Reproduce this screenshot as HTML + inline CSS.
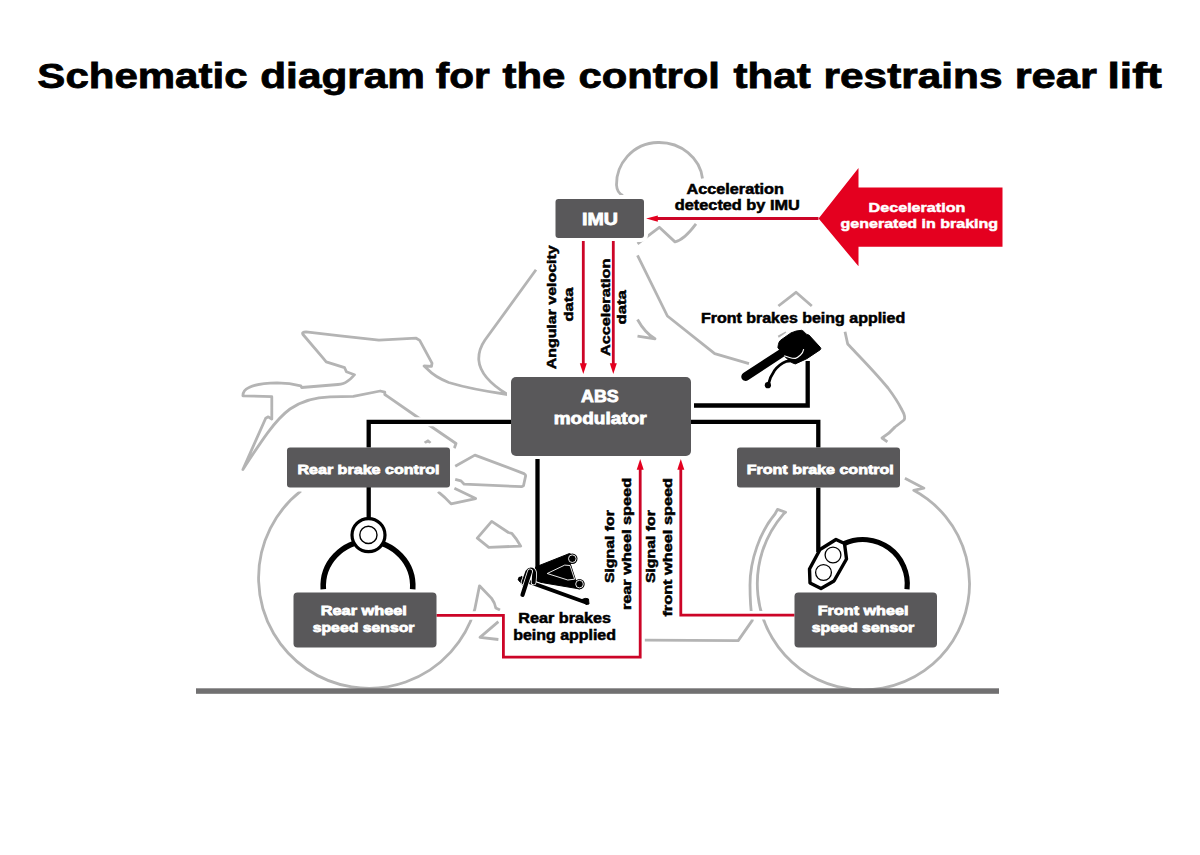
<!DOCTYPE html>
<html><head><meta charset="utf-8">
<style>
html,body{margin:0;padding:0;background:#fff;}
body{width:1200px;height:855px;overflow:hidden;}
svg{display:block;}
text{font-family:"Liberation Sans",sans-serif;font-weight:bold;}
</style></head>
<body>
<svg width="1200" height="855" viewBox="0 0 1200 855">
<g fill="#000" stroke="#000" stroke-width="0.8" font-size="35.2"><text x="37.38" y="87.5" textLength="210.12" lengthAdjust="spacingAndGlyphs">Schematic</text><text x="260.25" y="87.5" textLength="164.72" lengthAdjust="spacingAndGlyphs">diagram</text><text x="435.66" y="87.5" textLength="54.12" lengthAdjust="spacingAndGlyphs">for</text><text x="502.49" y="87.5" textLength="62.89" lengthAdjust="spacingAndGlyphs">the</text><text x="578.43" y="87.5" textLength="141.55" lengthAdjust="spacingAndGlyphs">control</text><text x="733.5" y="87.5" textLength="77.25" lengthAdjust="spacingAndGlyphs">that</text><text x="823.59" y="87.5" textLength="178.9" lengthAdjust="spacingAndGlyphs">restrains</text><text x="1014.69" y="87.5" textLength="82.1" lengthAdjust="spacingAndGlyphs">rear</text><text x="1107.54" y="87.5" textLength="54.27" lengthAdjust="spacingAndGlyphs">lift</text></g>
<g fill="none" stroke="#b4b4b4" stroke-width="2.8" stroke-linejoin="round"><path d="M536,269.8 L485,340 C479.5,348 478.5,354 478.8,360 C479.5,370 487,382 507.5,394.5 C490,392 470,389 448.7,382.5 C440,379 432,374 427.6,369.3 L424.1,366 L431.5,366.3 L432,363.2 L419.7,340.4 L416.2,338.2 L378.9,340.2 L340.3,335.8 L306,331.9 Q301.5,332 303,334.5 L322.7,357.7 L326.2,361.8 L344.6,367.7 L346.4,371.8 L354.5,374.7 Q350,380 347,381.5 Q344,384 338,384.5 L301.7,387.5 L300.8,385.8 Q290,383 277.1,382.8 Q258,383 249,387.5 Q243,390 242.9,395.8 L271.8,396.7 L271.8,419.1 L268.3,416.8 L265.7,418.2 L242.9,469.5 C262,440 275,420 290,409 C303,400 318,397 330,396.8 L353.3,396.3 L380.2,391 L384.8,392.2 L384.8,394.5 L388.3,396.8 L418,417.5 L456,443.5 L454.3,448.2"/>
<path d="M623,195.5 Q617,193 616.5,185 C616,165 632,143 658,142.5 C681,142 700,158 702.5,178.5"/>
<path d="M637.5,243.8 L659.3,227.3 L675,241.9 Q684,240 696,223.9"/>
<path d="M637.5,255.4 L667.4,316 L714.7,353.7 L749,363.7"/>
<path d="M637.5,319.5 Q645,333 655,338.8 L637.5,336.1"/>
<path d="M778.4,306 L796,292.3 L811.8,306"/>
<path d="M845,331.8 L847.7,344 C860,357 875,372 888,388 Q897,400 902,410 Q906,417 904,420 Q899,424 895,427 Q890,433 882,438 L887.4,441.8"/>
<path d="M778.4,337 L786.3,332.6"/>
<path d="M904.9,478.3 L923.9,488.2 L913.7,490.3 A106.1,106.1 0 1 1 783.2,514.3 L785.6,512.2 L777.5,509.4 L775,514 C760,532 750,560 750,585 C750,600 751,612 752.3,620.4 L738.2,640.6 L644.7,640.2"/>
<path d="M301,490.9 A110.4,110.4 0 1 0 474.7,609.7 L479.5,585.8 L491.6,598.4 Q495,603 495.8,607.9 L500,610"/>
<path d="M438,491.7 A110.4,110.4 0 0 1 451.1,503.9 L475.7,498.6 L454.4,488.3"/>
<path d="M455.2,466.2 L474.9,455.1 L524,473.6 Q526,475 525.6,476 L523.5,485.8 L521.5,486.7 L464.2,484.2 L461,480.9 L455.2,479.3"/>
<path d="M477.3,538.2 L491.7,521.4 L508.4,532.5 L511.7,533.3 Q516,538 520.7,546.1 L488.8,547.3 Z"/>
<path d="M498.4,621.6 L480,637.4 L498.4,639.5"/>
<path d="M424.7,443 L427.9,440.8 L430.5,443"/></g>
<g><rect x="555.5" y="199" width="88.5" height="39" rx="3" fill="#fff" stroke="#fff" stroke-width="8"/><rect x="511" y="377" width="180" height="79" rx="5" fill="#fff" stroke="#fff" stroke-width="8"/><rect x="287" y="447.5" width="163" height="40" rx="3" fill="#fff" stroke="#fff" stroke-width="8"/><rect x="737" y="447.5" width="163" height="40" rx="3" fill="#fff" stroke="#fff" stroke-width="8"/><rect x="293.5" y="592.5" width="143" height="55" rx="4" fill="#fff" stroke="#fff" stroke-width="8"/><rect x="794.5" y="592.5" width="142.5" height="55" rx="4" fill="#fff" stroke="#fff" stroke-width="8"/><path d="M511 421.8 H368.7 V447.5" fill="none" stroke="#fff" stroke-width="9"/><path d="M368.7 487 V520" fill="none" stroke="#fff" stroke-width="9"/><path d="M691 421.8 H818.3 V447.5" fill="none" stroke="#fff" stroke-width="9"/><path d="M818.3 487.5 V552" fill="none" stroke="#fff" stroke-width="9"/><path d="M694 405.5 H807.7 V361" fill="none" stroke="#fff" stroke-width="9"/><path d="M537.5 459 V570" fill="none" stroke="#fff" stroke-width="9"/><path d="M436.5 615.4 H503.4 V657.2 H640.2 V468" fill="none" stroke="#fff" stroke-width="8.5"/><path d="M794.5 615.2 H680.8 V468" fill="none" stroke="#fff" stroke-width="8.5"/><path d="M583.3 241 V364" fill="none" stroke="#fff" stroke-width="8.5"/><path d="M613.3 241 V364" fill="none" stroke="#fff" stroke-width="8.5"/><path d="M818.5 218.5 H656" fill="none" stroke="#fff" stroke-width="8.5"/><path d="M583.3 374 L579.8 363.2 L586.8 363.2 Z" fill="#fff" stroke="#fff" stroke-width="6"/><path d="M613.3 374 L609.8 363.2 L616.8 363.2 Z" fill="#fff" stroke="#fff" stroke-width="6"/><path d="M640.2 459 L636.7 469.8 L643.7 469.8 Z" fill="#fff" stroke="#fff" stroke-width="6"/><path d="M680.8 459 L677.3 469.8 L684.3 469.8 Z" fill="#fff" stroke="#fff" stroke-width="6"/><path d="M646.1 218.6 L657.8 215.4 L657.8 221.8 Z" fill="#fff" stroke="#fff" stroke-width="6"/><path d="M818.6 218.4 L858.5 168.1 L858.5 187.6 L1002.5 187.6 L1002.5 246.8 L858.5 246.8 L858.5 266.3 Z" fill="#fff" stroke="#fff" stroke-width="6"/><text x="686.4" y="193.5" font-size="13.75" textLength="97.6" lengthAdjust="spacingAndGlyphs" fill="#fff" stroke="#fff" stroke-width="6" stroke-linejoin="round">Acceleration</text><text x="674.8" y="209.8" font-size="13.75" textLength="125" lengthAdjust="spacingAndGlyphs" fill="#fff" stroke="#fff" stroke-width="6" stroke-linejoin="round">detected by IMU</text><text x="701.0" y="322.9" font-size="13.75" textLength="204.2" lengthAdjust="spacingAndGlyphs" fill="#fff" stroke="#fff" stroke-width="6" stroke-linejoin="round">Front brakes being applied</text><text x="518.3" y="622.9" font-size="13.75" textLength="92.8" lengthAdjust="spacingAndGlyphs" fill="#fff" stroke="#fff" stroke-width="6" stroke-linejoin="round">Rear brakes</text><text x="513.2" y="639.5" font-size="13.75" textLength="102.8" lengthAdjust="spacingAndGlyphs" fill="#fff" stroke="#fff" stroke-width="6" stroke-linejoin="round">being applied</text><text transform="translate(555.7,369.2) rotate(-90)" font-size="13.2" textLength="123.8" lengthAdjust="spacingAndGlyphs" fill="#fff" stroke="#fff" stroke-width="6" stroke-linejoin="round">Angular velocity</text><text transform="translate(572.7,321.6) rotate(-90)" font-size="13.2" textLength="34" lengthAdjust="spacingAndGlyphs" fill="#fff" stroke="#fff" stroke-width="6" stroke-linejoin="round">data</text><text transform="translate(609.9,356.0) rotate(-90)" font-size="13.2" textLength="97.4" lengthAdjust="spacingAndGlyphs" fill="#fff" stroke="#fff" stroke-width="6" stroke-linejoin="round">Acceleration</text><text transform="translate(626.2,324.5) rotate(-90)" font-size="13.2" textLength="34.4" lengthAdjust="spacingAndGlyphs" fill="#fff" stroke="#fff" stroke-width="6" stroke-linejoin="round">data</text><text transform="translate(614.3,583.1) rotate(-90)" font-size="13.2" textLength="73" lengthAdjust="spacingAndGlyphs" fill="#fff" stroke="#fff" stroke-width="6" stroke-linejoin="round">Signal for</text><text transform="translate(631.3,610.1) rotate(-90)" font-size="13.2" textLength="132.2" lengthAdjust="spacingAndGlyphs" fill="#fff" stroke="#fff" stroke-width="6" stroke-linejoin="round">rear wheel speed</text><text transform="translate(655.3,583.1) rotate(-90)" font-size="13.2" textLength="73" lengthAdjust="spacingAndGlyphs" fill="#fff" stroke="#fff" stroke-width="6" stroke-linejoin="round">Signal for</text><text transform="translate(672.3,616.6) rotate(-90)" font-size="13.2" textLength="138.7" lengthAdjust="spacingAndGlyphs" fill="#fff" stroke="#fff" stroke-width="6" stroke-linejoin="round">front wheel speed</text><line x1="745.6" y1="376.6" x2="781" y2="353.5" stroke="#fff" stroke-width="14" stroke-linecap="round"/><path d="M777.9,347.6 L778.4,344.5 Q779,341.5 780.5,340.3 L791,332.9 Q796,330.5 801.6,330.3 Q803.5,331 804.7,332.4 L806.8,334.5 L808.9,335 L820,347.1 Q821.5,348.5 820.3,349.7 L806.8,358.7 L795.3,363.9 Q792,363 790,361.3 L784.5,356.3 Z" fill="#fff" stroke="#fff" stroke-width="6" stroke-linejoin="round"/><path d="M798,361.5 Q791,360 786,361.5 Q779,364.5 774.5,370.5 Q770,377 768.5,384" fill="none" stroke="#fff" stroke-width="7"/><circle cx="767.9" cy="385.2" r="6" fill="#fff"/><g><path d="M323.3,589.3 A44.8,44.8 0 1 1 412.7,589.3" fill="none" stroke="#fff" stroke-width="10"/>
<circle cx="368.5" cy="535.1" r="16.5" fill="#fff" stroke="#fff" stroke-width="8"/>
<circle cx="368.4" cy="534.9" r="8.6" fill="none" stroke="#fff" stroke-width="1.4"/></g><g><path d="M844,543.7 A44.5,44.5 0 0 1 907,589.3" fill="none" stroke="#fff" stroke-width="9"/>
<path d="M836,539.5 L844.5,543.5 L846.5,559 L834,581 L821,588.5 L810,583 L809.5,569 L820,549.5 Z" fill="#fff" stroke="#fff" stroke-width="8" stroke-linejoin="round"/>
<circle cx="833" cy="555" r="7.9" fill="none" stroke="#fff" stroke-width="1.3"/>
<circle cx="823.5" cy="572.5" r="7.9" fill="none" stroke="#fff" stroke-width="1.3"/></g><rect x="514" y="550" width="80" height="58" fill="#fff" opacity="0"/></g>
<rect x="196" y="688.3" width="803" height="5.5" fill="#717071"/>
<g fill="none" stroke="#000" stroke-width="4.3"><path d="M511 421.8 H368.7 V447.5"/><path d="M368.7 487 V520"/><path d="M691 421.8 H818.3 V447.5"/><path d="M818.3 487.5 V552"/><path d="M694 405.5 H807.7 V361"/><path d="M537.5 459 V570"/></g>
<g fill="none" stroke="#cc0527" stroke-width="2.8"><path d="M436.5 615.4 H503.4 V657.2 H640.2 V468"/><path d="M794.5 615.2 H680.8 V468"/><path d="M583.3 241 V364"/><path d="M613.3 241 V364"/><path d="M818.5 218.5 H656"/></g>
<g fill="#e4001f"><path d="M583.3 374 L579.8 363.2 L586.8 363.2 Z"/><path d="M613.3 374 L609.8 363.2 L616.8 363.2 Z"/><path d="M640.2 459 L636.7 469.8 L643.7 469.8 Z"/><path d="M680.8 459 L677.3 469.8 L684.3 469.8 Z"/><path d="M646.1 218.6 L657.8 215.4 L657.8 221.8 Z"/><path d="M818.6 218.4 L858.5 168.1 L858.5 187.6 L1002.5 187.6 L1002.5 246.8 L858.5 246.8 L858.5 266.3 Z"/></g>
<g fill="#59585a"><rect x="555.5" y="199" width="88.5" height="39" rx="3"/><rect x="511" y="377" width="180" height="79" rx="5"/><rect x="287" y="447.5" width="163" height="40" rx="3"/><rect x="737" y="447.5" width="163" height="40" rx="3"/><rect x="293.5" y="592.5" width="143" height="55" rx="4"/><rect x="794.5" y="592.5" width="142.5" height="55" rx="4"/></g>
<line x1="745.6" y1="376.6" x2="781" y2="353.5" stroke="#000" stroke-width="8.6" stroke-linecap="round"/>
<path d="M798,361.5 Q791,360 786,361.5 Q779,364.5 774.5,370.5 Q770,377 768.5,384" fill="none" stroke="#fff" stroke-width="4.4"/>
<path d="M798,361.5 Q791,360 786,361.5 Q779,364.5 774.5,370.5 Q770,377 768.5,384" fill="none" stroke="#000" stroke-width="2.8" stroke-linecap="round"/>
<path d="M777.9,347.6 L778.4,344.5 Q779,341.5 780.5,340.3 L791,332.9 Q796,330.5 801.6,330.3 Q803.5,331 804.7,332.4 L806.8,334.5 L808.9,335 L820,347.1 Q821.5,348.5 820.3,349.7 L806.8,358.7 L795.3,363.9 Q792,363 790,361.3 L784.5,356.3 Z" fill="#000" stroke="#000" stroke-width="1" stroke-linejoin="round"/>
<path d="M803.7,349.2 Q803,353 800.5,355 Q797.5,357.8 795.3,358.4 Q792,358.3 789.5,357.4 L784.2,355.8" fill="none" stroke="#fff" stroke-width="1.1"/>
<circle cx="767.9" cy="385.2" r="3.1" fill="#000"/>
<path d="M323.3,589.3 A44.8,44.8 0 1 1 412.7,589.3" fill="none" stroke="#000" stroke-width="5.6"/>
<circle cx="368.5" cy="535.1" r="16.5" fill="#fff" stroke="#000" stroke-width="3.2"/>
<circle cx="368.4" cy="534.9" r="8.6" fill="none" stroke="#000" stroke-width="1.4"/>
<path d="M844,543.7 A44.5,44.5 0 0 1 907,589.3" fill="none" stroke="#000" stroke-width="5.2"/>
<path d="M836,539.5 L844.5,543.5 L846.5,559 L834,581 L821,588.5 L810,583 L809.5,569 L820,549.5 Z" fill="#fff" stroke="#000" stroke-width="3.4" stroke-linejoin="round"/>
<circle cx="833" cy="555" r="7.9" fill="none" stroke="#000" stroke-width="1.3"/>
<circle cx="823.5" cy="572.5" r="7.9" fill="none" stroke="#000" stroke-width="1.3"/>
<path d="M535.5,567 L569.5,553.5 L574,556 L570.5,564.5 L575.5,580 L580,589 L535.5,581.5 Z" fill="#000" stroke="#000" stroke-width="1" stroke-linejoin="round"/>
<path d="M547.2,573.5 L564.7,565.1 L570,565.5 L574.6,579.2 L567.8,580 Z" fill="none" stroke="#fff" stroke-width="0.9" stroke-linejoin="round"/>
<circle cx="572.3" cy="558.7" r="5.2" fill="#000"/>
<circle cx="572.3" cy="558.7" r="3.8" fill="#000" stroke="#fff" stroke-width="0.9"/>
<circle cx="579.5" cy="584.1" r="5.2" fill="#000"/>
<circle cx="579.5" cy="584.1" r="3.8" fill="#000" stroke="#fff" stroke-width="0.9"/>
<path d="M520,578.6 L586,602.5" stroke="#fff" stroke-width="5.8"/>
<path d="M520,578.6 L586,602.5" stroke="#000" stroke-width="3.8" stroke-linecap="round"/>
<path d="M518,579.5 L521.8,576.2 L524,581 L523,585.5 Z" fill="#000" stroke="#000" stroke-width="1" stroke-linejoin="round"/>
<path d="M582,599.5 Q586,597.5 588.5,599 L589,604 L586,604.5 Z" fill="#000" stroke="#000" stroke-width="1"/>
<path d="M523.5,582.5 L527.3,572 Q529.5,568.8 531.8,569.6 Q534.3,570.8 534.2,574.5 L533.6,582.5" fill="none" stroke="#fff" stroke-width="5.6" stroke-linecap="round"/>
<path d="M523.5,582.5 L527.3,572 Q529.5,568.8 531.8,569.6 Q534.3,570.8 534.2,574.5 L533.6,582.5" fill="none" stroke="#000" stroke-width="4" stroke-linecap="round"/>
<path d="M522.5,594.8 L530,571.5" fill="none" stroke="#fff" stroke-width="5.8" stroke-linecap="round"/>
<path d="M522.5,594.8 L530,571.5" fill="none" stroke="#000" stroke-width="4.2" stroke-linecap="round"/>
<text x="582" y="225" font-size="17" textLength="36" lengthAdjust="spacingAndGlyphs" fill="#fff" stroke="#fff" stroke-width="0.8">IMU</text>
<text x="581" y="401.7" font-size="16.5" textLength="37.7" lengthAdjust="spacingAndGlyphs" fill="#fff" stroke="#fff" stroke-width="0.8">ABS</text>
<text x="553.7" y="424" font-size="16.5" textLength="93" lengthAdjust="spacingAndGlyphs" fill="#fff" stroke="#fff" stroke-width="0.8">modulator</text>
<text x="297.4" y="473.8" font-size="13.7" textLength="142.1" lengthAdjust="spacingAndGlyphs" fill="#fff" stroke="#fff" stroke-width="0.8">Rear brake control</text>
<text x="746.7" y="473.8" font-size="13.7" textLength="147.1" lengthAdjust="spacingAndGlyphs" fill="#fff" stroke="#fff" stroke-width="0.8">Front brake control</text>
<text x="320.7" y="615.2" font-size="13.7" textLength="86.2" lengthAdjust="spacingAndGlyphs" fill="#fff" stroke="#fff" stroke-width="0.8">Rear wheel</text>
<text x="312.7" y="631.8" font-size="13.7" textLength="101.8" lengthAdjust="spacingAndGlyphs" fill="#fff" stroke="#fff" stroke-width="0.8">speed sensor</text>
<text x="817.7" y="615.2" font-size="13.7" textLength="90.8" lengthAdjust="spacingAndGlyphs" fill="#fff" stroke="#fff" stroke-width="0.8">Front wheel</text>
<text x="811.7" y="632.2" font-size="13.7" textLength="102.5" lengthAdjust="spacingAndGlyphs" fill="#fff" stroke="#fff" stroke-width="0.8">speed sensor</text>
<text x="868.6" y="212.2" font-size="13.5" textLength="96.8" lengthAdjust="spacingAndGlyphs" fill="#fff" stroke="#fff" stroke-width="0.5">Deceleration</text>
<text x="840.6" y="228" font-size="13.5" textLength="157.5" lengthAdjust="spacingAndGlyphs" fill="#fff" stroke="#fff" stroke-width="0.5">generated in braking</text>
<text x="686.4" y="193.5" font-size="13.75" textLength="97.6" lengthAdjust="spacingAndGlyphs" fill="#000" stroke="#000" stroke-width="0.5">Acceleration</text>
<text x="674.8" y="209.8" font-size="13.75" textLength="125" lengthAdjust="spacingAndGlyphs" fill="#000" stroke="#000" stroke-width="0.5">detected by IMU</text>
<text x="701.0" y="322.9" font-size="13.75" textLength="204.2" lengthAdjust="spacingAndGlyphs" fill="#000" stroke="#000" stroke-width="0.5">Front brakes being applied</text>
<text x="518.3" y="622.9" font-size="13.75" textLength="92.8" lengthAdjust="spacingAndGlyphs" fill="#000" stroke="#000" stroke-width="0.5">Rear brakes</text>
<text x="513.2" y="639.5" font-size="13.75" textLength="102.8" lengthAdjust="spacingAndGlyphs" fill="#000" stroke="#000" stroke-width="0.5">being applied</text>
<text transform="translate(555.7,369.2) rotate(-90)" font-size="13.2" textLength="123.8" lengthAdjust="spacingAndGlyphs" fill="#000" stroke="#000" stroke-width="0.5">Angular velocity</text>
<text transform="translate(572.7,321.6) rotate(-90)" font-size="13.2" textLength="34" lengthAdjust="spacingAndGlyphs" fill="#000" stroke="#000" stroke-width="0.5">data</text>
<text transform="translate(609.9,356.0) rotate(-90)" font-size="13.2" textLength="97.4" lengthAdjust="spacingAndGlyphs" fill="#000" stroke="#000" stroke-width="0.5">Acceleration</text>
<text transform="translate(626.2,324.5) rotate(-90)" font-size="13.2" textLength="34.4" lengthAdjust="spacingAndGlyphs" fill="#000" stroke="#000" stroke-width="0.5">data</text>
<text transform="translate(614.3,583.1) rotate(-90)" font-size="13.2" textLength="73" lengthAdjust="spacingAndGlyphs" fill="#000" stroke="#000" stroke-width="0.5">Signal for</text>
<text transform="translate(631.3,610.1) rotate(-90)" font-size="13.2" textLength="132.2" lengthAdjust="spacingAndGlyphs" fill="#000" stroke="#000" stroke-width="0.5">rear wheel speed</text>
<text transform="translate(655.3,583.1) rotate(-90)" font-size="13.2" textLength="73" lengthAdjust="spacingAndGlyphs" fill="#000" stroke="#000" stroke-width="0.5">Signal for</text>
<text transform="translate(672.3,616.6) rotate(-90)" font-size="13.2" textLength="138.7" lengthAdjust="spacingAndGlyphs" fill="#000" stroke="#000" stroke-width="0.5">front wheel speed</text>
</svg>
</body></html>
